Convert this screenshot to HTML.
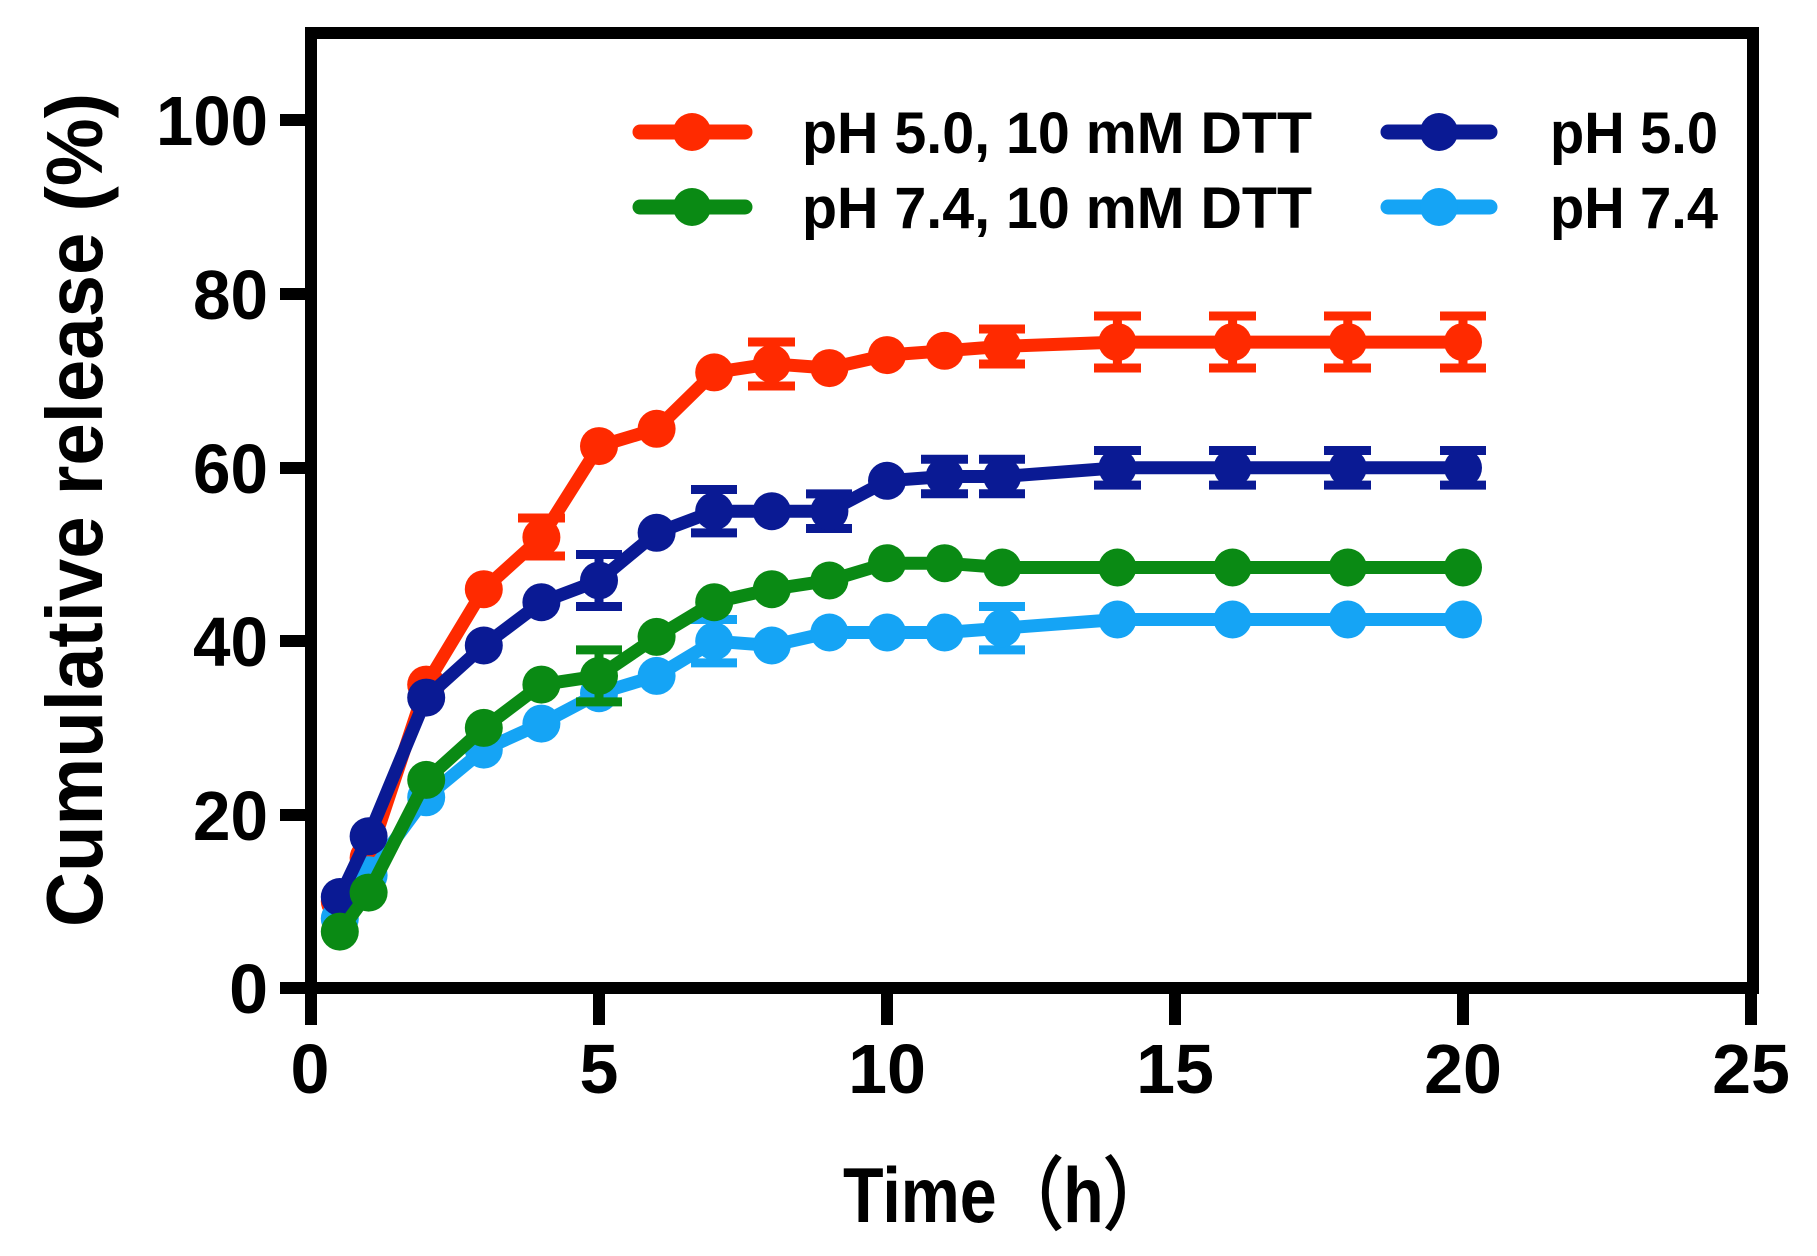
<!DOCTYPE html>
<html><head><meta charset="utf-8"><style>html,body{margin:0;padding:0;background:#fff;}svg{display:block;}</style></head>
<body>
<svg width="1817" height="1256" viewBox="0 0 1817 1256" xmlns="http://www.w3.org/2000/svg" font-family="Liberation Sans, Arial, sans-serif" font-weight="bold">
<rect width="1817" height="1256" fill="#fff"/>
<!-- red -->
<g stroke="#ff2a00" fill="#ff2a00">
<polyline fill="none" stroke-width="13" stroke-linejoin="round" points="339.8,901.3 368.6,857.9 426.2,684.6 483.8,589.2 541.4,537.2 599,446.1 656.6,428.8 714.2,372.4 771.8,363.8 829.4,368.1 887,355.1 944.6,350.8 1002.2,346.4 1117.4,342.1 1232.6,342.1 1347.8,342.1 1463,342.1"/>
<path stroke-width="9" fill="none" d="M541.4,518V556M518,518H565M518,556H565 M771.8,342V386M748,342H795M748,386H795 M1002.2,329V364M979,329H1025M979,364H1025 M1117.4,316V368M1094,316H1141M1094,368H1141 M1232.6,316V368M1209,316H1256M1209,368H1256 M1347.8,316V368M1324,316H1371M1324,368H1371 M1463,316V368M1440,316H1486M1440,368H1486"/>
<g stroke="none"><circle cx="339.8" cy="901.3" r="19"/><circle cx="368.6" cy="857.9" r="19"/><circle cx="426.2" cy="684.6" r="19"/><circle cx="483.8" cy="589.2" r="19"/><circle cx="541.4" cy="537.2" r="19"/><circle cx="599" cy="446.1" r="19"/><circle cx="656.6" cy="428.8" r="19"/><circle cx="714.2" cy="372.4" r="19"/><circle cx="771.8" cy="363.8" r="19"/><circle cx="829.4" cy="368.1" r="19"/><circle cx="887" cy="355.1" r="19"/><circle cx="944.6" cy="350.8" r="19"/><circle cx="1002.2" cy="346.4" r="19"/><circle cx="1117.4" cy="342.1" r="19"/><circle cx="1232.6" cy="342.1" r="19"/><circle cx="1347.8" cy="342.1" r="19"/><circle cx="1463" cy="342.1" r="19"/></g>
</g>
<!-- light blue -->
<g stroke="#15a4f5" fill="#15a4f5">
<polyline fill="none" stroke-width="13" stroke-linejoin="round" points="339.8,918.6 368.6,875.3 426.2,797.3 483.8,749.6 541.4,723.6 599,693.2 656.6,675.9 714.2,641.2 771.8,645.5 829.4,632.5 887,632.5 944.6,632.5 1002.2,628.2 1117.4,619.5 1232.6,619.5 1347.8,619.5 1463,619.5"/>
<path stroke-width="9" fill="none" d="M714.2,619.5V662.9M691,619.5H737M691,662.9H737 M1002.2,606.5V649.9M979,606.5H1025M979,649.9H1025"/>
<g stroke="none"><circle cx="339.8" cy="918.6" r="19"/><circle cx="368.6" cy="875.3" r="19"/><circle cx="426.2" cy="797.3" r="19"/><circle cx="483.8" cy="749.6" r="19"/><circle cx="541.4" cy="723.6" r="19"/><circle cx="599" cy="693.2" r="19"/><circle cx="656.6" cy="675.9" r="19"/><circle cx="714.2" cy="641.2" r="19"/><circle cx="771.8" cy="645.5" r="19"/><circle cx="829.4" cy="632.5" r="19"/><circle cx="887" cy="632.5" r="19"/><circle cx="944.6" cy="632.5" r="19"/><circle cx="1002.2" cy="628.2" r="19"/><circle cx="1117.4" cy="619.5" r="19"/><circle cx="1232.6" cy="619.5" r="19"/><circle cx="1347.8" cy="619.5" r="19"/><circle cx="1463" cy="619.5" r="19"/></g>
</g>
<!-- navy -->
<g stroke="#0a1a94" fill="#0a1a94">
<polyline fill="none" stroke-width="13" stroke-linejoin="round" points="339.8,897 368.6,836.3 426.2,697.6 483.8,645.5 541.4,602.2 599,580.5 656.6,532.8 714.2,511.2 771.8,511.2 829.4,511.2 887,480.8 944.6,476.5 1002.2,476.5 1117.4,467.8 1232.6,467.8 1347.8,467.8 1463,467.8"/>
<path stroke-width="9" fill="none" d="M599,554.5V606.5M576,554.5H622M576,606.5H622 M714.2,489.5V532.9M691,489.5H737M691,532.9H737 M829.4,493.9V528.5M806,493.9H852M806,528.5H852 M944.6,459.2V493.8M921,459.2H968M921,493.8H968 M1002.2,459.2V493.8M979,459.2H1025M979,493.8H1025 M1117.4,450.5V485.1M1094,450.5H1141M1094,485.1H1141 M1232.6,450.5V485.1M1209,450.5H1256M1209,485.1H1256 M1347.8,450.5V485.1M1324,450.5H1371M1324,485.1H1371 M1463,450.5V485.1M1440,450.5H1486M1440,485.1H1486"/>
<g stroke="none"><circle cx="339.8" cy="897" r="19"/><circle cx="368.6" cy="836.3" r="19"/><circle cx="426.2" cy="697.6" r="19"/><circle cx="483.8" cy="645.5" r="19"/><circle cx="541.4" cy="602.2" r="19"/><circle cx="599" cy="580.5" r="19"/><circle cx="656.6" cy="532.8" r="19"/><circle cx="714.2" cy="511.2" r="19"/><circle cx="771.8" cy="511.2" r="19"/><circle cx="829.4" cy="511.2" r="19"/><circle cx="887" cy="480.8" r="19"/><circle cx="944.6" cy="476.5" r="19"/><circle cx="1002.2" cy="476.5" r="19"/><circle cx="1117.4" cy="467.8" r="19"/><circle cx="1232.6" cy="467.8" r="19"/><circle cx="1347.8" cy="467.8" r="19"/><circle cx="1463" cy="467.8" r="19"/></g>
</g>
<!-- green -->
<g stroke="#0a8a14" fill="#0a8a14">
<polyline fill="none" stroke-width="13" stroke-linejoin="round" points="339.8,931.6 368.6,892.6 426.2,779.9 483.8,727.9 541.4,684.6 599,675.9 656.6,636.9 714.2,602.2 771.8,589.2 829.4,580.5 887,563.2 944.6,563.2 1002.2,567.5 1117.4,567.5 1232.6,567.5 1347.8,567.5 1463,567.5"/>
<path stroke-width="9" fill="none" d="M599,649.9V701.9M576,649.9H622M576,701.9H622"/>
<g stroke="none"><circle cx="339.8" cy="931.6" r="19"/><circle cx="368.6" cy="892.6" r="19"/><circle cx="426.2" cy="779.9" r="19"/><circle cx="483.8" cy="727.9" r="19"/><circle cx="541.4" cy="684.6" r="19"/><circle cx="599" cy="675.9" r="19"/><circle cx="656.6" cy="636.9" r="19"/><circle cx="714.2" cy="602.2" r="19"/><circle cx="771.8" cy="589.2" r="19"/><circle cx="829.4" cy="580.5" r="19"/><circle cx="887" cy="563.2" r="19"/><circle cx="944.6" cy="563.2" r="19"/><circle cx="1002.2" cy="567.5" r="19"/><circle cx="1117.4" cy="567.5" r="19"/><circle cx="1232.6" cy="567.5" r="19"/><circle cx="1347.8" cy="567.5" r="19"/><circle cx="1463" cy="567.5" r="19"/></g>
</g>
<!-- frame -->
<rect x="311" y="33" width="1442" height="955" fill="none" stroke="#000" stroke-width="12"/>
<g stroke="#000" stroke-width="12">
<line x1="280" y1="120" x2="311" y2="120"/><line x1="280" y1="294" x2="311" y2="294"/>
<line x1="280" y1="468" x2="311" y2="468"/><line x1="280" y1="641" x2="311" y2="641"/>
<line x1="280" y1="815" x2="311" y2="815"/><line x1="280" y1="988" x2="311" y2="988"/>
<line x1="311" y1="988" x2="311" y2="1025"/><line x1="599" y1="988" x2="599" y2="1025"/>
<line x1="887" y1="988" x2="887" y2="1025"/><line x1="1175" y1="988" x2="1175" y2="1025"/>
<line x1="1463" y1="988" x2="1463" y2="1025"/><line x1="1751" y1="988" x2="1751" y2="1025"/>
</g>
<g font-size="70" text-anchor="end">
<text x="268" y="145" textLength="112" lengthAdjust="spacingAndGlyphs">100</text>
<text x="268" y="319" textLength="75" lengthAdjust="spacingAndGlyphs">80</text>
<text x="268" y="493" textLength="75" lengthAdjust="spacingAndGlyphs">60</text>
<text x="268" y="666" textLength="75" lengthAdjust="spacingAndGlyphs">40</text>
<text x="268" y="840" textLength="75" lengthAdjust="spacingAndGlyphs">20</text>
<text x="268" y="1013">0</text>
</g>
<g font-size="70" text-anchor="middle">
<text x="310" y="1093">0</text><text x="599" y="1093">5</text>
<text x="887" y="1093">10</text><text x="1175" y="1093">15</text>
<text x="1463" y="1093">20</text><text x="1751" y="1093">25</text>
</g>
<text x="843" y="1222" font-size="78" textLength="327" lengthAdjust="spacingAndGlyphs">Time（h）</text>
<text transform="translate(102,510) rotate(-90)" text-anchor="middle" font-size="80" textLength="834" lengthAdjust="spacingAndGlyphs">Cumulative release (%)</text>
<!-- legend -->
<g stroke-width="15" stroke-linecap="round">
<line x1="640" y1="132" x2="745" y2="132" stroke="#ff2a00"/><circle cx="692" cy="132" r="19" fill="#ff2a00"/>
<line x1="640" y1="207" x2="745" y2="207" stroke="#0a8a14"/><circle cx="692" cy="207" r="19" fill="#0a8a14"/>
<line x1="1388" y1="132" x2="1490" y2="132" stroke="#0a1a94"/><circle cx="1439" cy="132" r="19" fill="#0a1a94"/>
<line x1="1388" y1="207" x2="1490" y2="207" stroke="#15a4f5"/><circle cx="1439" cy="207" r="19" fill="#15a4f5"/>
</g>
<g font-size="58">
<text x="802" y="153" textLength="510" lengthAdjust="spacingAndGlyphs">pH 5.0, 10 mM DTT</text>
<text x="802" y="228" textLength="510" lengthAdjust="spacingAndGlyphs">pH 7.4, 10 mM DTT</text>
<text x="1550" y="153" textLength="168" lengthAdjust="spacingAndGlyphs">pH 5.0</text>
<text x="1550" y="228" textLength="168" lengthAdjust="spacingAndGlyphs">pH 7.4</text>
</g>
</svg>
</body></html>
